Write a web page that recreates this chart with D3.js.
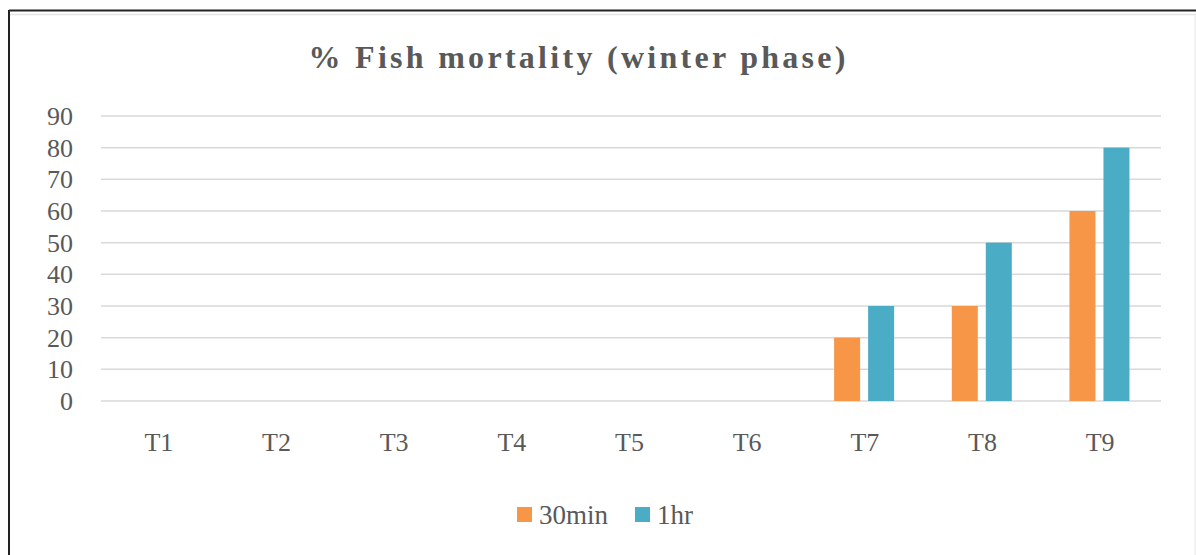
<!DOCTYPE html>
<html>
<head>
<meta charset="utf-8">
<style>
  html, body { margin: 0; padding: 0; background: #fff; }
  svg { display: block; }
  text { font-family: "Liberation Serif", "Times New Roman", serif; fill: #595959; }
</style>
</head>
<body>
<svg width="1196" height="555"></svg>
<script src="https://cdn.jsdelivr.net/npm/d3@7"></script>
<script>
var categories = ['T1', 'T2', 'T3', 'T4', 'T5', 'T6', 'T7', 'T8', 'T9'];
var seriesNames = ['30min', '1hr'];
var seriesColors = ['#f79646', '#4bacc6'];
var values30min = [0, 0, 0, 0, 0, 0, 20, 30, 60];
var values1hr = [0, 0, 0, 0, 0, 0, 30, 50, 80];
var yTicks = [0, 10, 20, 30, 40, 50, 60, 70, 80, 90];
var title = '% Fish mortality (winter phase)';

var svg = d3.select('svg');

// frame
svg.append('line').attr('x1', 9).attr('y1', 10.5).attr('x2', 1196).attr('y2', 10.5)
  .attr('stroke', '#222').attr('stroke-width', 2);
svg.append('line').attr('x1', 9).attr('y1', 14.5).attr('x2', 1196).attr('y2', 14.5)
  .attr('stroke', '#e4e4e4').attr('stroke-width', 1.5);
svg.append('line').attr('x1', 9).attr('y1', 10).attr('x2', 9).attr('y2', 555)
  .attr('stroke', '#222').attr('stroke-width', 2);
svg.append('line').attr('x1', 1195).attr('y1', 15).attr('x2', 1195).attr('y2', 555)
  .attr('stroke', '#e8e8e8').attr('stroke-width', 1);

var x = d3.scaleBand().domain(categories).range([102, 1161]).padding(0);
var xSub = d3.scaleBand().domain(seriesNames)
  .range([x.bandwidth() * 0.222, x.bandwidth() * 0.732]).paddingInner(0.235);
var y = d3.scaleLinear().domain([0, 90]).range([401, 116]);

// gridlines
svg.append('g').selectAll('line').data(yTicks).join('line')
  .attr('x1', 101).attr('x2', 1161)
  .attr('y1', function(d) { return y(d); }).attr('y2', function(d) { return y(d); })
  .attr('stroke', '#d9d9d9').attr('stroke-width', 1.5);

// y labels
svg.append('g').selectAll('text').data(yTicks).join('text')
  .attr('x', 73).attr('y', function(d) { return y(d) + 9; })
  .attr('text-anchor', 'end').attr('font-size', 26)
  .text(function(d) { return d; });

// x labels
svg.append('g').selectAll('text').data(categories).join('text')
  .attr('x', function(d) { return x(d) + x.bandwidth() / 2 - 2; }).attr('y', 451)
  .attr('text-anchor', 'middle').attr('font-size', 26)
  .text(function(d) { return d; });

// bars
var rows = categories.map(function(c, i) {
  return { cat: c, vals: [values30min[i], values1hr[i]] };
});
var groups = svg.append('g').selectAll('g').data(rows).join('g')
  .attr('transform', function(d) { return 'translate(' + x(d.cat) + ',0)'; });
groups.selectAll('rect').data(function(d) {
  return d.vals.map(function(v, i) { return { name: seriesNames[i], v: v, color: seriesColors[i] }; });
}).join('rect')
  .filter(function(d) { return d.v > 0; })
  .attr('x', function(d) { return xSub(d.name); })
  .attr('width', xSub.bandwidth())
  .attr('y', function(d) { return y(d.v); })
  .attr('height', function(d) { return y(0) - y(d.v); })
  .attr('fill', function(d) { return d.color; });

// title
svg.append('text')
  .attr('x', 577).attr('y', 68)
  .attr('text-anchor', 'middle').attr('font-size', 32).attr('font-weight', 'bold')
  .attr('textLength', 537).attr('lengthAdjust', 'spacing')
  .text(title);

// legend
var legendX = [517, 635];
var leg = svg.append('g').selectAll('g').data(seriesNames).join('g')
  .attr('transform', function(d, i) { return 'translate(' + legendX[i] + ',507)'; });
leg.append('rect').attr('width', 15).attr('height', 15)
  .attr('fill', function(d, i) { return seriesColors[i]; });
leg.append('text').attr('x', 22).attr('y', 17).attr('font-size', 27)
  .text(function(d) { return d; });
</script>
</body>
</html>
